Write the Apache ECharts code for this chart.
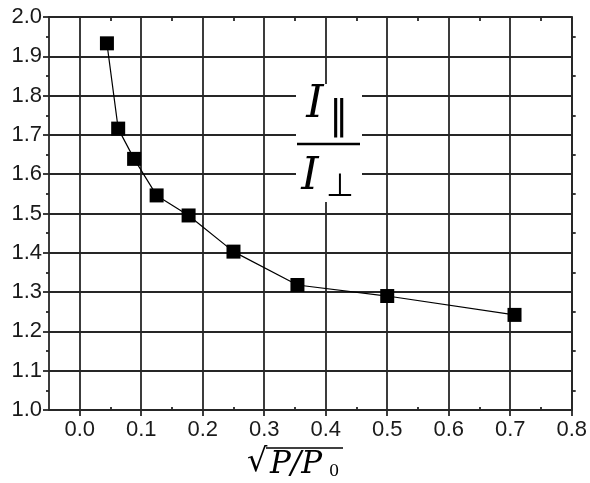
<!DOCTYPE html>
<html>
<head>
<meta charset="utf-8">
<script src="https://cdn.jsdelivr.net/npm/echarts@6/dist/echarts.min.js"></script>
<style>
  html, body { margin: 0; padding: 0; background: #fff; }
  #main { width: 590px; height: 483px; }
</style>
</head>
<body>
<div id="main"></div>
<script>
// data
var xValues = [0.0442, 0.0625, 0.0884, 0.125, 0.177, 0.25, 0.354, 0.5, 0.707];
var yValues = [1.933, 1.716, 1.639, 1.546, 1.495, 1.403, 1.318, 1.290, 1.242];
var xTicks = [0, 0.1, 0.2, 0.3, 0.4, 0.5, 0.6, 0.7, 0.8];
var xMinorTicks = [0.05, 0.15, 0.25, 0.35, 0.45, 0.55, 0.65, 0.75];

var points = xValues.map(function (x, i) { return [x, yValues[i]]; });

var chart = echarts.init(document.getElementById('main'));

var lineCol = '#262626';
var lw = 1.8;
var labelFont = { fontFamily: 'Liberation Sans', fontSize: 22, color: '#1a1a1a' };

var option = {
  backgroundColor: '#fff',
  animation: false,
  grid: { left: 49, right: 13, top: 17, bottom: 73 },
  xAxis: [
    {
      type: 'value', min: -0.05, max: 0.8, position: 'bottom',
      axisLine: { show: true, onZero: false, lineStyle: { color: lineCol, width: lw } },
      axisTick: { show: true, customValues: xTicks, length: 6, lineStyle: { color: lineCol, width: lw } },
      axisLabel: Object.assign({ customValues: xTicks, margin: 9, formatter: function (v) { return v.toFixed(1); } }, labelFont),
      splitLine: { show: true, lineStyle: { color: lineCol, width: lw } }
    },
    {
      type: 'value', min: -0.05, max: 0.8, position: 'top',
      axisLine: { show: true, onZero: false, lineStyle: { color: lineCol, width: lw } },
      axisTick: { show: true, inside: true, customValues: xMinorTicks, length: 4, lineStyle: { color: lineCol, width: lw } },
      axisLabel: { show: false },
      splitLine: { show: false }
    },
    {
      type: 'value', min: -0.05, max: 0.8, position: 'bottom',
      axisLine: { show: false },
      axisTick: { show: true, inside: true, customValues: xMinorTicks, length: 3, lineStyle: { color: lineCol, width: lw } },
      axisLabel: { show: false },
      splitLine: { show: false }
    }
  ],
  yAxis: [
    {
      type: 'value', min: 1.0, max: 2.0, interval: 0.1, position: 'left',
      axisLine: { show: true, onZero: false, lineStyle: { color: lineCol, width: lw } },
      axisTick: { show: true, length: 6, lineStyle: { color: lineCol, width: lw } },
      minorTick: { show: true, splitNumber: 2, length: 3, lineStyle: { color: lineCol, width: lw } },
      axisLabel: Object.assign({ margin: 7, formatter: function (v) { return v.toFixed(1); } }, labelFont),
      splitLine: { show: true, lineStyle: { color: lineCol, width: lw } }
    },
    {
      type: 'value', min: 1.0, max: 2.0, interval: 0.1, position: 'right',
      axisLine: { show: true, onZero: false, lineStyle: { color: lineCol, width: lw } },
      axisTick: { show: false },
      minorTick: { show: true, splitNumber: 2, length: 4, lineStyle: { color: lineCol, width: lw } },
      axisLabel: { show: false },
      splitLine: { show: false }
    }
  ],
  graphic: [
    // white patch behind the ratio label
    { type: 'rect', z: 50, shape: { x: 296, y: 84, width: 66, height: 118 }, style: { fill: '#fff' } },
    { type: 'text', z: 51, style: { text: 'I', x: 315, y: 106, align: 'center', verticalAlign: 'middle',
        font: 'italic 44px "DejaVu Serif"', fill: '#000' } },
    { type: 'text', z: 51, style: { text: '∥', x: 339, y: 119, align: 'center', verticalAlign: 'middle',
        font: '40px "DejaVu Sans"', fill: '#000' } },
    { type: 'line', z: 51, shape: { x1: 297, y1: 144, x2: 360, y2: 144 }, style: { stroke: '#000', lineWidth: 2.5 } },
    { type: 'text', z: 51, style: { text: 'I', x: 310, y: 178, align: 'center', verticalAlign: 'middle',
        font: 'italic 44px "DejaVu Serif"', fill: '#000' } },
    { type: 'text', z: 51, style: { text: '⊥', x: 340, y: 188, align: 'center', verticalAlign: 'middle',
        font: '32px "DejaVu Sans"', fill: '#000' } },
    // x axis title: sqrt(P/P0)
    { type: 'text', z: 51, style: { text: '√', x: 247, y: 463, align: 'left', verticalAlign: 'middle',
        font: '32px "DejaVu Sans"', fill: '#000' } },
    { type: 'line', z: 51, shape: { x1: 266, y1: 448, x2: 343, y2: 448 }, style: { stroke: '#000', lineWidth: 1.5 } },
    { type: 'text', z: 51, style: { text: 'P/P', x: 270, y: 465, align: 'left', verticalAlign: 'middle',
        font: 'italic 31px "DejaVu Serif"', fill: '#000' } },
    { type: 'text', z: 51, style: { text: '0', x: 329, y: 472, align: 'left', verticalAlign: 'middle',
        font: '16px "DejaVu Serif"', fill: '#000' } }
  ],
  series: [
    {
      type: 'line',
      data: points,
      xAxisIndex: 0,
      yAxisIndex: 0,
      symbol: 'rect',
      symbolSize: 14,
      z: 10,
      itemStyle: { color: '#000' },
      lineStyle: { color: '#000', width: 1.2 }
    }
  ]
};

chart.setOption(option);
</script>
</body>
</html>
